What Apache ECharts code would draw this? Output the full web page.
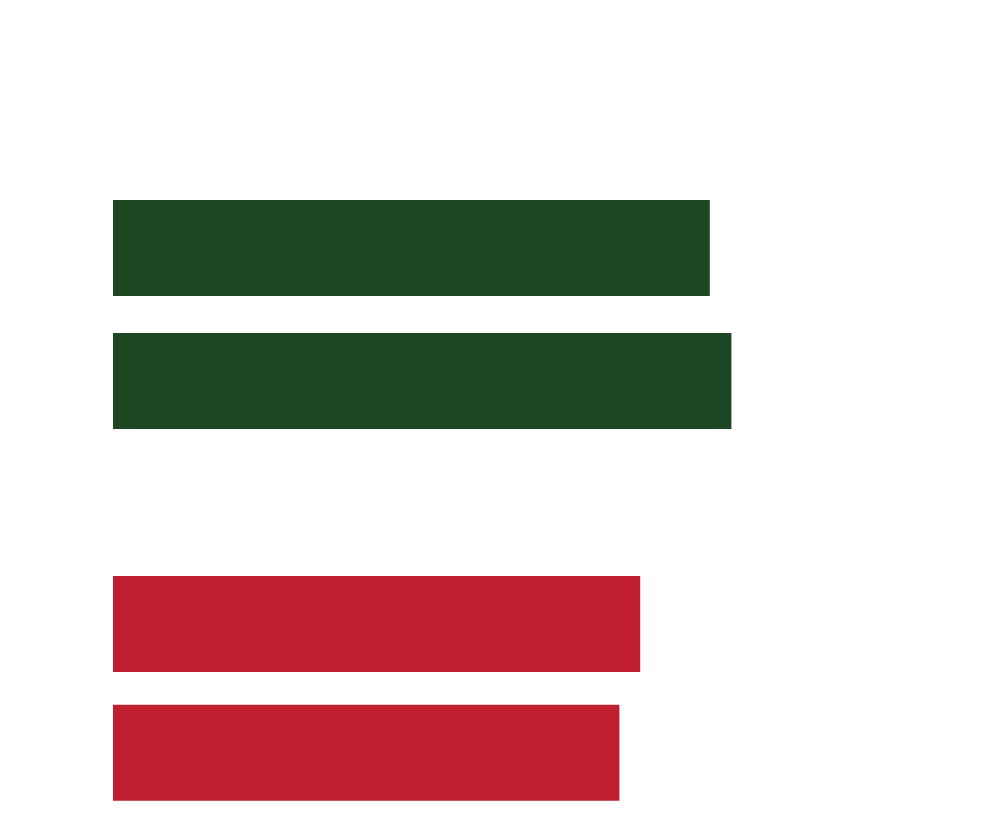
<!DOCTYPE html>
<html><head><meta charset="utf-8">
<script src="https://cdn.jsdelivr.net/npm/echarts@6/dist/echarts.min.js"></script>
<style>html,body{margin:0;padding:0;background:#fff}#c{width:1005px;height:817px}</style>
</head><body><div id="c"></div>
<script>
const topCategories = ['A', 'B'];
const topValues = [74.6, 77.3];
const bottomCategories = ['C', 'D'];
const bottomValues = [65.9, 63.3];
const chart = echarts.init(document.getElementById('c'));
const hidden = {show:false};
chart.setOption({
  animation:false,
  grid:[
    {left:113, width:800, top:181.5, height:266},
    {left:113, width:800, top:559.5, height:266}
  ],
  xAxis:[
    {gridIndex:0, type:'value', min:0, max:100, show:false},
    {gridIndex:1, type:'value', min:0, max:100, show:false}
  ],
  yAxis:[
    {gridIndex:0, type:'category', data:topCategories, inverse:true, show:false},
    {gridIndex:1, type:'category', data:bottomCategories, inverse:true, show:false}
  ],
  series:[
    {type:'bar', xAxisIndex:0, yAxisIndex:0, data:topValues, barWidth:96, itemStyle:{color:'#1c4722'}},
    {type:'bar', xAxisIndex:1, yAxisIndex:1, data:bottomValues, barWidth:96, itemStyle:{color:'#c01f2f'}}
  ]
});
</script></body></html>
